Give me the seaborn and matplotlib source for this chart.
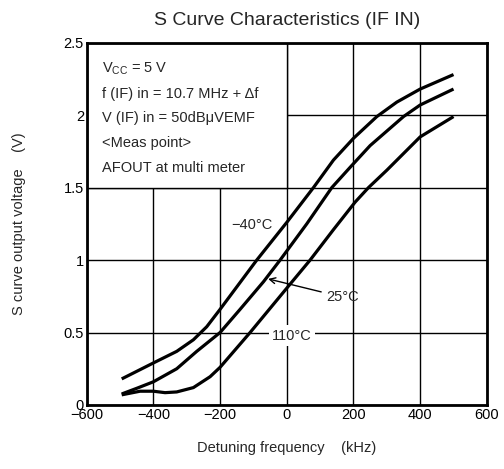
import numpy as np
import pandas as pd
import matplotlib.pyplot as plt
import seaborn as sns
from matplotlib.patches import Rectangle

# curves (kHz, V)
x_m40 = [-495, -400, -330, -280, -240, -200, -90, 0, 80, 140, 200, 270, 330, 400, 500]
v_m40 = [0.18, 0.29, 0.37, 0.45, 0.54, 0.66, 1.00, 1.26, 1.50, 1.69, 1.84, 1.99, 2.09, 2.18, 2.28]

x_25 = [-495, -450, -400, -330, -270, -200, -140, -70, -20, 60, 135, 190, 250, 350, 400, 500]
v_25 = [0.076, 0.115, 0.16, 0.25, 0.37, 0.50, 0.66, 0.85, 1.00, 1.25, 1.50, 1.64, 1.79, 1.99, 2.07, 2.18]

x_110 = [-495, -440, -400, -365, -330, -280, -230, -200, -140, -110, 5, 70, 140, 205, 245, 300, 400, 500]
v_110 = [0.07, 0.095, 0.095, 0.085, 0.09, 0.12, 0.195, 0.26, 0.42, 0.50, 0.82, 1.00, 1.21, 1.40, 1.50, 1.62, 1.85, 1.99]

x_ticks = [-600, -400, -200, 0, 200, 400, 600]
y_ticks = [0, 0.5, 1, 1.5, 2, 2.5]
y_tick_labels = ["0", "0.5", "1", "1.5", "2", "2.5"]

cond_lines = [
    r"V$_{\mathrm{CC}}$ = 5 V",
    "f (IF) in = 10.7 MHz + \u0394f",
    "V (IF) in = 50dB\u03bcVEMF",
    "<Meas point>",
    "AFOUT at multi meter",
]

sns.set_style("white")
plt.rcParams["font.family"] = ["Liberation Sans", "DejaVu Sans"]
plt.rcParams["mathtext.fontset"] = "custom"
plt.rcParams["mathtext.rm"] = "Liberation Sans"
plt.rcParams["mathtext.it"] = "Liberation Sans:italic"

fig = plt.figure(figsize=(5.04, 4.69), dpi=100)
ax = fig.add_axes([0.172, 0.1365, 0.794, 0.7725])

df = pd.concat([
    pd.DataFrame({"f": x_m40, "v": v_m40, "t": "-40"}),
    pd.DataFrame({"f": x_25, "v": v_25, "t": "25"}),
    pd.DataFrame({"f": x_110, "v": v_110, "t": "110"}),
])
for t, sub in df.groupby("t"):
    sns.lineplot(data=sub, x="f", y="v", ax=ax, color="black", lw=2.3,
                 sort=False, estimator=None, zorder=3,
                 solid_joinstyle="round", solid_capstyle="butt")

ax.set_xlim(-600, 600)
ax.set_ylim(0, 2.5)
ax.set_xticks(x_ticks)
ax.set_yticks(y_ticks)
ax.set_yticklabels(y_tick_labels)
ax.tick_params(length=0, labelsize=10.5, colors="black", pad=2)
ax.grid(True, color="black", lw=1.0)
ax.set_axisbelow(True)
for s in ax.spines.values():
    s.set_color("black")
    s.set_linewidth(2)

# white box for the conditions, hides the grid there
ax.add_patch(Rectangle((-600, 1.5), 600, 1.0, facecolor="white",
                       edgecolor="black", lw=1.0, zorder=1.5))
for i, line in enumerate(cond_lines):
    ax.text(-555, 2.32 - i * 0.171, line, fontsize=10.5, va="center", ha="left", zorder=4)

ax.text(-104, 1.24, "\u221240\u00b0C", fontsize=10.5, ha="center", va="center", zorder=4)
ax.annotate("25\u00b0C", xy=(-56, 0.87), xytext=(166, 0.745), fontsize=10.5,
            ha="center", va="center", zorder=4,
            arrowprops=dict(arrowstyle="->", color="black", lw=1.0, shrinkA=1, shrinkB=0))
ax.text(16, 0.476, "110\u00b0C", fontsize=10.5, ha="center", va="center", zorder=4,
        bbox=dict(facecolor="white", edgecolor="none", pad=2.5))

ax.set_title("S Curve Characteristics (IF IN)", fontsize=14, pad=13)
ax.set_xlabel("Detuning frequency    (kHz)", fontsize=10.5, labelpad=14)
ax.set_ylabel("S curve output voltage    (V)", fontsize=10.5, labelpad=27)

fig.savefig("out.png", dpi=100)
